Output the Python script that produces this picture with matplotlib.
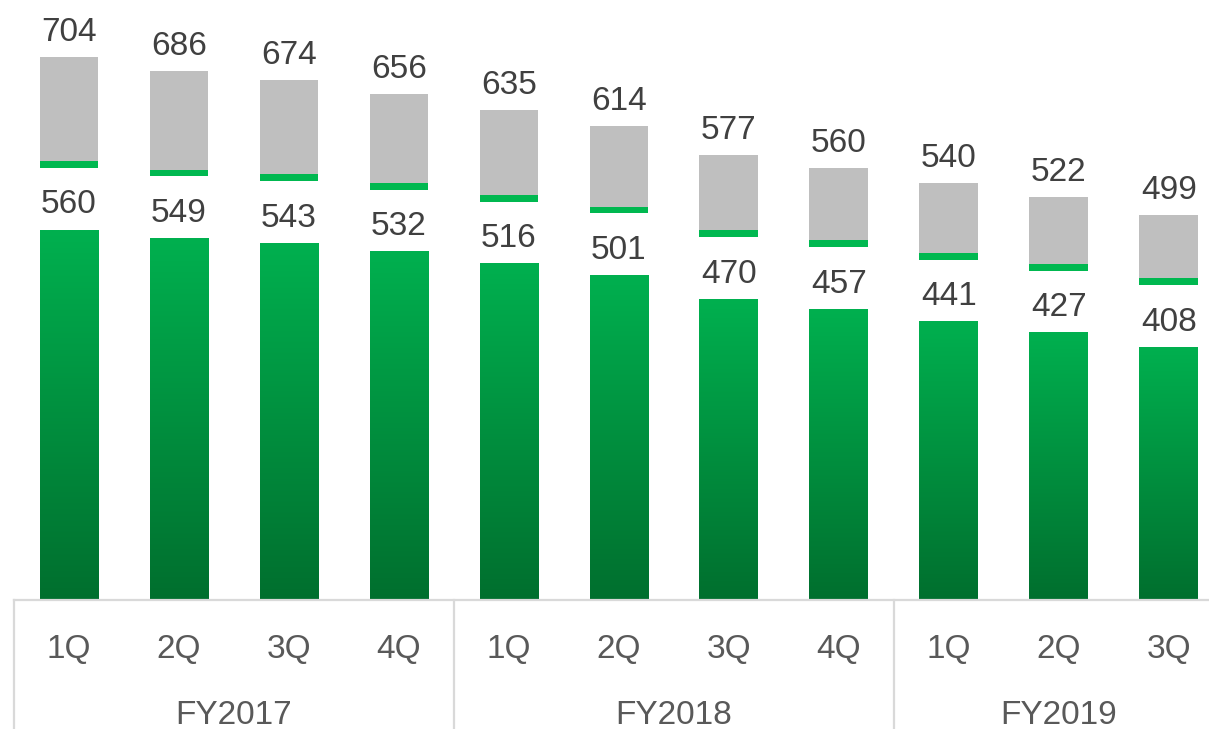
import matplotlib
matplotlib.use("Agg")
from matplotlib import pyplot as plt
from matplotlib.colors import LinearSegmentedColormap
import numpy as np

plt.rcParams['font.family'] = ['Liberation Sans', 'DejaVu Sans']

quarters = ["1Q", "2Q", "3Q", "4Q", "1Q", "2Q", "3Q", "4Q", "1Q", "2Q", "3Q"]
years = ["FY2017", "FY2018", "FY2019"]
year_sizes = [4, 4, 3]
green_vals = [560, 549, 543, 532, 516, 501, 470, 457, 441, 427, 408]
total_vals = [704, 686, 674, 656, 635, 614, 577, 560, 540, 522, 499]

# layout of the stack (in value units): gradient bar stops below the value,
# a blank band holds the label, a thin green marker, then grey up to the total
gap = 80
marker = 9

green_top = "#00b04f"
green_bottom = "#006f2e"
grey = "#bfbfbf"
text_col = "#404040"
tick_col = "#595959"
line_col = "#d9d9d9"

W, H = 1209, 729
fig = plt.figure(figsize=(W / 100, H / 100), dpi=100)
base_px = 599.6
ax = fig.add_axes([14 / W, (H - base_px) / H, (W - 14) / W, base_px / H])

x = np.arange(len(quarters))
bw = 0.536
cmap = LinearSegmentedColormap.from_list("g", [green_bottom, green_top])
grad = np.linspace(0, 1, 256).reshape(-1, 1)

g = np.array(green_vals)
t = np.array(total_vals)

bars = ax.bar(x, g - gap, bw, color="none", edgecolor="none")
for b in bars:
    x0 = b.get_x()
    ax.imshow(grad, extent=[x0, x0 + bw, 0, b.get_height()], origin="lower",
              cmap=cmap, aspect="auto", zorder=2)
ax.bar(x, marker, bw, bottom=g, color="#00b850", edgecolor="none", zorder=2)
ax.bar(x, t - g - marker, bw, bottom=g + marker, color=grey, edgecolor="none", zorder=2)

for xi, gv, tv in zip(x, g, t):
    ax.text(xi, gv - 59, str(gv), ha="center", va="baseline",
            fontsize=24, color=text_col)
    ax.text(xi, tv + 21, str(tv), ha="center", va="baseline",
            fontsize=24, color=text_col)

ax.set_xlim(-0.5, 10.364)
ax.set_ylim(0, base_px / 0.7707)
for s in ["top", "right", "left"]:
    ax.spines[s].set_visible(False)
ax.spines["bottom"].set_color(line_col)
ax.spines["bottom"].set_linewidth(1.6)
ax.set_yticks([])
ax.set_xticks([])

tr = ax.get_xaxis_transform()
for xi, q in zip(x, quarters):
    ax.text(xi, -(658 - base_px) / base_px, q, ha="center", va="baseline",
            fontsize=24, color=tick_col, transform=tr)

start = 0
for yr, n in zip(years, year_sizes):
    ax.text(start + (n - 1) / 2, -(723.5 - base_px) / base_px, yr, ha="center",
            va="baseline", fontsize=24, color=tick_col, transform=tr)
    ax.plot([start - 0.5, start - 0.5], [0, -1], color=line_col, lw=1.6,
            transform=tr, clip_on=False)
    start += n

fig.savefig("out.png", dpi=100)
